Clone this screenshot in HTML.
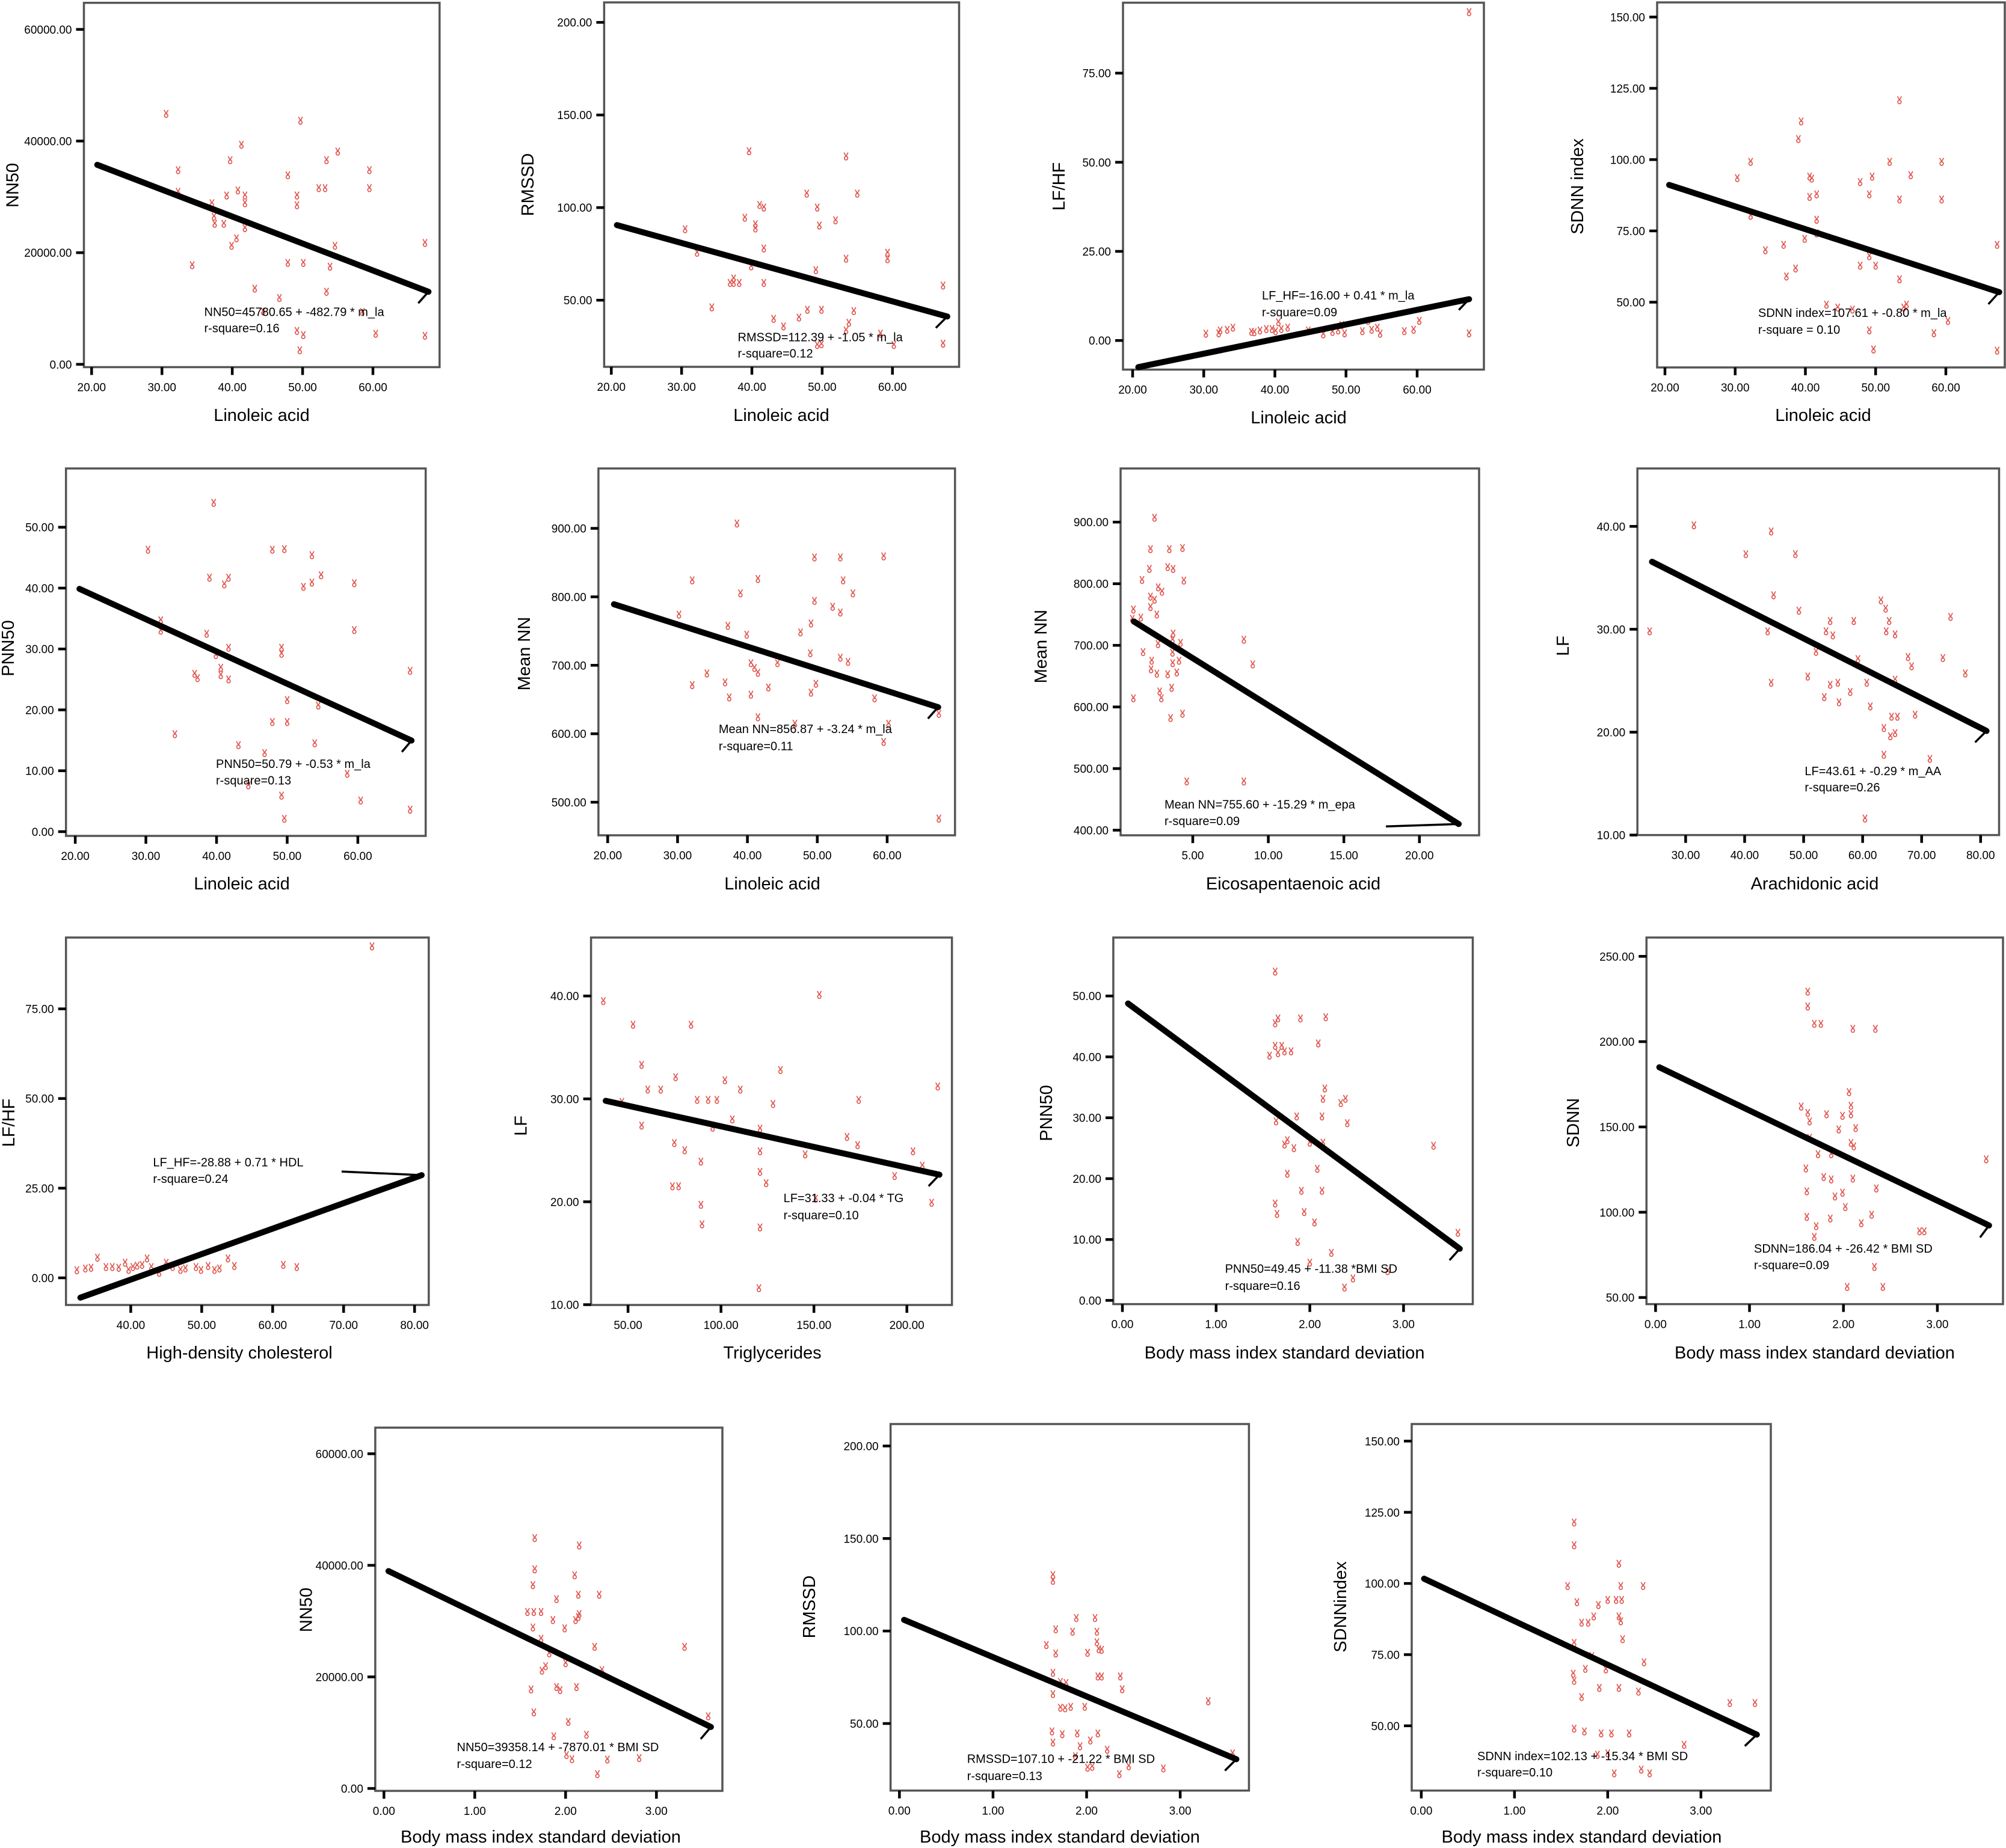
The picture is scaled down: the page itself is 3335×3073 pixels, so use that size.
<!DOCTYPE html>
<html><head><meta charset="utf-8">
<style>
html,body{margin:0;padding:0;background:#fff;}
svg{display:block;}
text{font-family:"Liberation Sans",Arial,sans-serif;fill:#000;}
</style></head>
<body>
<svg id="fig" xmlns="http://www.w3.org/2000/svg" width="3335" height="3073" viewBox="0 0 3335 3073"></svg>
<script>
// ---- data ----
const p1x=[30.6,32.3,32.3,34.3,37.1,37.4,37.5,38.8,39.2,39.7,39.9,40.6,40.8,41.3,41.8,41.8,41.8,43.2,44.4,46.7,47.9,47.9,49.2,49.2,49.2,49.6,49.7,50.1,50.1,52.3,53.2,53.4,53.4,53.9,54.6,55.0,58.5,59.5,59.5,60.4,67.4,67.4];
const p1y=[44860,34780,30900,17750,28850,26450,25170,25170,30230,36570,21230,22560,31150,39330,30230,28850,24400,13550,9460,11870,33860,18160,30230,28490,5980,2510,43630,18160,5220,31560,31560,36570,12990,17490,21230,38110,9360,34780,31560,5470,21740,5110];
const p2x=[39.6,53.4,47.8,55.0,41.1,41.7,49.3,39.0,51.9,40.5,40.5,49.6,30.5,41.7,32.2,59.3,59.3,53.4,39.9,49.1,36.9,37.4,37.4,38.2,41.7,67.2,34.3,47.9,49.9,54.5,43.1,46.7,44.5,53.8,53.4,58.3,49.3,49.9,60.2,67.2];
const p2y=[130.4,127.6,107.5,107.5,101.4,100,100,94.5,93.1,91,88.7,90.3,88.3,77.9,75.6,75.6,72.1,72.4,68.2,66.2,59.3,61.7,59.3,59.3,59.3,57.9,46.1,44.8,44.8,44.1,39.9,40.6,35.8,37.8,33.7,31.9,25.8,26.2,25.8,26.5];
const p3x=[67.3,67.3,60.3,30.3,32.3,33.3,34.1,37.1,37.9,38.8,39.6,40.5,40.9,41.8,44.7,46.8,48.1,48.9,49.8,49.4,52.3,53.1,53.6,54.4,54.8,58.2,59.5,32.1,36.7,40.1];
const p3y=[92.1,2.0,5.5,1.9,2.8,3.0,3.6,2.3,2.8,3.2,3.2,5.1,3.2,3.6,2.8,1.7,2.4,2.8,2.0,4.3,2.6,5.5,3.0,3.6,1.9,2.6,3.0,2.0,2.4,2.6];
const p4x=[53.4,39.4,39.0,32.2,30.3,52.0,59.4,40.6,40.9,47.8,49.5,55.0,40.6,41.6,49.1,53.4,59.4,32.2,41.6,39.9,41.6,34.3,36.9,67.3,47.8,50.0,49.1,37.3,38.6,53.4,43.0,44.6,46.7,54.0,54.4,60.3,49.1,58.3,49.7,67.3];
const p4y=[120.8,113.4,107.2,99.2,93.5,99.2,99.2,94.0,93.3,92.1,94.0,94.5,86.9,87.8,87.8,86.0,86.0,80.3,78.9,72.2,74.1,68.2,70.1,70.1,62.8,62.8,66.1,59.0,61.8,58.0,49.1,48.1,47.4,48.1,49.1,43.4,40.1,39.1,33.4,33.0];
const p5x=[39.6,30.3,47.9,49.6,53.5,39.0,41.7,41.1,52.3,53.5,54.8,59.5,32.1,32.1,38.6,59.5,41.7,49.2,49.2,39.9,40.6,40.6,36.9,37.3,41.7,67.4,50.0,54.4,34.1,47.9,50.0,43.1,46.8,53.9,58.5,44.5,49.2,60.4,67.4,49.6];
const p5y=[54.0,46.3,46.3,46.4,45.4,41.7,41.7,40.6,40.2,40.9,42.1,40.8,34.7,33.0,32.5,33.1,30.2,30.2,29.2,29.0,26.9,25.7,25.9,25.2,25.0,26.4,21.6,20.7,16.0,18.0,18.0,14.2,12.9,14.5,9.5,7.6,5.9,5.1,3.6,2.1];
const p6x=[38.5,49.6,53.3,59.5,32.1,41.5,53.7,39.0,55.1,49.6,52.2,53.3,30.2,37.2,49.1,39.9,47.6,49.0,53.3,54.4,40.5,41.0,41.5,44.3,34.2,32.1,36.8,49.8,37.4,40.5,43.0,49.1,58.2,41.5,46.8,60.2,67.4,59.5,67.4];
const p6y=[907,857.5,857.5,859,824,826,824,805,805,794,785.4,777,774,757.5,761,744.6,748,717.5,711,705,703,696,689,703,688,671,675,673,653,657,667.5,660,651.7,624,614.6,614.6,629,588,476];
const p7x=[2.47,2.2,3.45,4.32,2.13,3.34,3.70,1.64,4.41,2.71,2.96,2.2,2.47,2.2,1.07,2.62,1.56,1.0,8.38,3.70,3.66,2.7,4.19,1.71,3.66,2.28,2.24,4.09,3.67,2.62,3.34,3.94,8.97,3.6,2.81,2.92,1.07,3.53,4.32,4.6,8.38];
const p7y=[907,856,856,858,824,827,824,806,805,794,787,779,774,762,758,750,745,743,709,719,709,702,704,689,688,675,661,675,671,654,653,656,669,631,625,614,614,582,589,479,479];
const p8x=[31.4,44.5,40.2,48.6,44.9,49.2,23.9,43.9,54.5,53.8,54.95,58.5,63.1,63.9,64.5,64.0,65.5,74.9,52.1,59.2,67.7,68.3,73.6,77.4,50.7,44.5,54.5,55.8,60.7,65.5,53.5,57.9,56.0,61.3,64.9,65.9,68.9,63.6,64.7,65.5,63.6,71.4,60.4];
const p8y=[40.1,39.5,37.3,37.3,33.3,31.8,29.8,29.8,30.8,29.8,29.4,30.8,32.8,32.0,30.8,29.8,29.5,31.2,27.8,27.1,27.3,26.4,27.2,25.7,25.4,24.8,24.6,24.8,24.8,25.1,23.4,23.9,22.9,22.5,21.5,21.5,21.7,20.4,19.6,19.9,17.8,17.4,11.6];
const p9x=[74.0,32.4,33.6,34.4,35.3,36.5,37.4,38.3,39.2,39.7,40.3,40.9,41.6,42.3,42.9,44.0,45.0,45.9,47.0,47.7,49.2,49.9,50.9,51.8,52.5,53.7,54.6,61.5,63.4];
const p9y=[92.4,2.1,2.6,2.8,5.6,3.0,3.0,2.8,4.2,2.2,3.0,3.4,3.6,5.4,3.0,1.4,4.2,3.0,2.2,2.6,3.0,2.2,3.3,2.2,2.6,5.4,3.3,3.6,3.0];
const p10x=[36.7,152.9,52.7,83.9,57.3,132.0,75.6,102.1,60.6,67.6,110.4,216.6,46.7,87.2,93.1,97.8,128.0,174.1,106.1,57.3,95.5,121.0,167.8,173.5,74.9,80.5,121.0,145.3,203.3,89.2,208.3,193.4,121.0,124.3,73.9,77.2,89.2,150.9,213.3,89.8,121.0,120.4];
const p10y=[39.5,40.1,37.2,37.2,33.3,32.8,32.1,31.8,30.9,30.9,30.9,31.2,29.7,29.9,29.9,29.9,29.5,29.9,28.0,27.4,27.2,27.1,26.3,25.5,25.7,25.0,24.9,24.6,24.9,23.9,23.5,22.5,22.9,21.8,21.5,21.5,19.7,20.3,19.9,17.8,17.5,11.6];
const p11x=[1.63,1.63,1.66,1.90,2.17,2.09,1.63,1.70,1.57,1.73,1.80,1.66,2.16,2.14,2.33,2.38,1.64,1.86,2.13,2.40,1.76,1.73,1.83,2.00,2.14,3.32,1.76,2.08,1.91,2.13,1.63,1.65,1.94,2.05,1.87,2.23,2.00,2.83,2.46,2.37,3.58];
const p11y=[54.0,45.5,46.3,46.3,46.5,42.2,41.8,41.8,40.2,40.9,40.9,40.6,34.8,33.1,32.4,33.1,29.4,30.2,30.2,29.1,26.3,25.6,25.0,25.9,25.9,25.4,20.8,21.6,18.0,18.0,15.9,14.2,14.5,12.8,9.6,7.8,6.2,4.8,3.6,2.1,11.1];
const p12x=[1.62,1.62,1.69,1.76,2.10,2.34,2.06,1.55,2.08,1.62,1.82,1.99,2.08,1.64,2.13,1.95,1.64,2.08,2.11,1.73,1.87,3.52,1.60,1.79,1.87,2.10,2.35,1.61,1.99,1.91,2.02,1.61,1.86,2.30,2.19,1.71,2.81,2.86,1.69,2.33,2.04,2.42];
const p12y=[229.3,220.6,210.4,210.4,207.5,207.5,170.4,161.9,162.4,158.2,157.4,156.5,157.4,153.2,149.3,148.5,143.6,140.6,138.6,134.0,134.0,131.0,125.6,120.6,119.2,119.7,113.9,112.2,111.4,109.2,103.0,97.2,96.3,98.5,93.5,91.8,88.8,88.8,85.5,67.9,56.2,56.2];
const p13x=[1.66,2.15,1.66,2.10,1.64,2.37,2.14,1.90,1.58,1.65,1.73,1.86,2.11,2.14,2.15,1.64,1.99,1.73,2.32,3.31,1.82,2.00,1.78,1.74,2.40,1.62,1.90,1.94,2.12,1.65,3.57,2.03,1.87,2.23,2.01,2.07,2.46,2.81,2.35];
const p13y=[44880,43550,39270,38200,36440,34730,34730,33930,31630,31630,31630,30190,30190,30720,31260,28850,28690,26820,25380,25380,24200,22440,21910,21110,21210,17740,18170,17630,18170,13630,12930,11920,9350,9620,5980,5240,5180,5450,2560];
const p14x=[1.64,1.64,1.89,2.09,1.67,1.85,2.11,1.57,2.11,2.13,2.16,1.67,2.01,1.64,2.12,2.16,2.36,1.72,1.78,2.38,1.64,3.30,1.72,1.77,1.83,1.98,1.63,1.74,1.90,2.12,1.64,2.04,1.93,2.22,3.56,1.88,2.01,2.06,2.45,2.82,2.35];
const p14y=[130.2,127.1,107.0,107.0,100.9,99.6,99.6,92.4,93.9,90.1,89.8,87.8,88.2,77.4,75.4,75.4,75.4,72.4,71.9,68.5,65.9,62.0,58.5,58.2,59.0,59.0,45.7,44.2,44.6,44.6,39.7,40.8,37.7,35.8,33.8,32.3,26.1,26.6,26.9,25.7,22.6];
const p15x=[1.64,1.64,2.12,1.57,2.14,2.38,1.67,2.0,2.09,2.15,1.90,1.85,2.12,2.14,1.72,1.79,2.16,1.64,1.83,2.39,1.76,1.98,1.63,1.64,1.91,2.12,2.33,1.72,3.31,3.58,1.64,1.75,1.93,2.04,2.23,2.82,1.89,2.0,2.36,2.45,2.07];
const p15y=[121.4,113.4,106.9,99.1,99.1,99.1,93.4,94.2,94.2,94.2,92.4,88.4,88.4,86.7,86.2,86.2,80.4,79.1,74.5,72.3,70.0,69.8,68.3,65.8,63.3,63.3,62.0,60.1,58.0,58.0,49.0,48.0,47.3,47.3,47.3,43.3,39.8,40.3,34.6,33.3,33.3];

const fitIntercept=[45780.65,112.39,-16.00,107.61,50.79,856.87,755.60,43.61,-28.88,31.33,49.45,186.04,39358.14,107.10,102.13];
const fitSlope=[-482.79,-1.05,0.41,-0.80,-0.53,-3.24,-15.29,-0.29,0.71,-0.04,-11.38,-26.42,-7870.01,-21.22,-15.34];
const fitXMin=[20.8,20.8,20.8,20.6,20.6,20.9,1.1,24.3,32.9,38,0.06,0.04,0.05,0.05,0.03];
const fitXMax=[67.9,67.8,67.3,67.6,67.6,67.3,22.6,81,81,217.5,3.6,3.55,3.6,3.6,3.6];

const xTickVals=[[20,30,40,50,60],[20,30,40,50,60],[20,30,40,50,60],[20,30,40,50,60],[20,30,40,50,60],[20,30,40,50,60],[5,10,15,20],[30,40,50,60,70,80],[40,50,60,70,80],[50,100,150,200],[0,1,2,3],[0,1,2,3],[0,1,2,3],[0,1,2,3],[0,1,2,3]];
const yTickVals=[[0,20000,40000,60000],[50,100,150,200],[0,25,50,75],[50,75,100,125,150],[0,10,20,30,40,50],[500,600,700,800,900],[400,500,600,700,800,900],[10,20,30,40],[0,25,50,75],[10,20,30,40],[0,10,20,30,40,50],[50,100,150,200,250],[0,20000,40000,60000],[50,100,150,200],[50,75,100,125,150]];

const eqText=[
["NN50=45780.65 + -482.79 * m_la","r-square=0.16"],
["RMSSD=112.39 + -1.05 * m_la","r-square=0.12"],
["LF_HF=-16.00 + 0.41 * m_la","r-square=0.09"],
["SDNN index=107.61 + -0.80 * m_la","r-square = 0.10"],
["PNN50=50.79 + -0.53 * m_la","r-square=0.13"],
["Mean NN=856.87 + -3.24 * m_la","r-square=0.11"],
["Mean NN=755.60 + -15.29 * m_epa","r-square=0.09"],
["LF=43.61 + -0.29 * m_AA","r-square=0.26"],
["LF_HF=-28.88 + 0.71 * HDL","r-square=0.24"],
["LF=31.33 + -0.04 * TG","r-square=0.10"],
["PNN50=49.45 + -11.38 *BMI SD","r-square=0.16"],
["SDNN=186.04 + -26.42 * BMI SD","r-square=0.09"],
["NN50=39358.14 + -7870.01 * BMI SD","r-square=0.12"],
["RMSSD=107.10 + -21.22 * BMI SD","r-square=0.13"],
["SDNN index=102.13 + -15.34 * BMI SD","r-square=0.10"]];
const xTitles=["Linoleic acid","Linoleic acid","Linoleic acid","Linoleic acid","Linoleic acid","Linoleic acid","Eicosapentaenoic acid","Arachidonic acid","High-density cholesterol","Triglycerides","Body mass index standard deviation","Body mass index standard deviation","Body mass index standard deviation","Body mass index standard deviation","Body mass index standard deviation"];
const yTitles=["NN50","RMSSD","LF/HF","SDNN index","PNN50","Mean NN","Mean NN","LF","LF/HF","LF","PNN50","SDNN","NN50","RMSSD","SDNNindex"];

const ptsX=[p1x,p2x,p3x,p4x,p5x,p6x,p7x,p8x,p9x,p10x,p11x,p12x,p13x,p14x,p15x];
const ptsY=[p1y,p2y,p3y,p4y,p5y,p6y,p7y,p8y,p9y,p10y,p11y,p12y,p13y,p14y,p15y];

const layout=[
{f:[139.5,4.7,730.8,610.5],xc:[20,152.3,60,620],yc:[0,605.8,60000,48.9],xt:[435,700],yt:[21.5,308],eq:[339.5,525.6,552.6],hk:[-17,19]},
{f:[1004.4,4,1594.5,610],xc:[20,1016.3,60,1483.7],yc:[50,499.2,200,37.2],xt:[1299,700],yt:[878,307],eq:[1226.5,567.7,594.3],hk:[-19,19]},
{f:[1867,4.5,2467,614.6],xc:[20,1883,60,2356],yc:[0,566.2,75,121.6],xt:[2159,704],yt:[1761,310],eq:[2098,498,525.8],hk:[-17,18]},
{f:[2755,4,3333,611],xc:[20,2768,60,3235],yc:[50,502.5,150,28.3],xt:[3031,700],yt:[2623,310],eq:[2923,527,555],hk:[-18,20]},
{f:[109.7,779,707.7,1390],xc:[20,125.1,60,594.9],yc:[0,1382.9,50,876.7],xt:[402,1479],yt:[14,1078],eq:[359,1277,1304.6],hk:[-16,19]},
{f:[994.9,779,1587.7,1389],xc:[20,1010.3,60,1474.9],yc:[500,1334,900,878.6],xt:[1284,1479],yt:[872,1087],eq:[1194.9,1219,1247.7],hk:[-17,19]},
{f:[1863,779,2459,1389],xc:[5,1983,20,2359.8],yc:[400,1380.5,900,868.2],xt:[2150,1479],yt:[1731,1075],eq:[1936,1344.5,1372],hk:[-121,4]},
{f:[2722.2,779,3323.5,1388.6],xc:[30,2802.4,80,3292.8],yc:[10,1388.6,40,875.3],xt:[3017,1479],yt:[2599,1074],eq:[3000.4,1289,1316],hk:[-19,19]},
{f:[109.7,1559,712.8,2170],xc:[40,217.4,80,689.2],yc:[0,2124.9,75,1677.6],xt:[398,2259],yt:[15,1867],eq:[254.4,1939.4,1967],hk:[-133,-6]},
{f:[982.6,1559,1582.6,2170],xc:[50,1044.1,200,1507.7],yc:[10,2169.5,40,1656.2],xt:[1284,2259],yt:[866.7,1872],eq:[1302.6,1999,2027.7],hk:[-18,19]},
{f:[1850.9,1559,2448.5,2168.6],xc:[0,1866,3,2333.4],yc:[0,2162.4,50,1656.2],xt:[2135.6,2259],yt:[1740,1851],eq:[2036.6,2116.4,2144.8],hk:[-17,19]},
{f:[2737.3,1559,3330,2168.6],xc:[0,2752.4,3,3220.9],yc:[50,2157.6,250,1590.3],xt:[3017,2259],yt:[2616,1867],eq:[2916,2083,2110.7],hk:[-15,20]},
{f:[623.9,2374,1201,2978],xc:[0,638.3,3,1091.3],yc:[0,2974,60000,2417.4],xt:[899,3064],yt:[509.6,2677],eq:[759.5,2912,2940],hk:[-17,20]},
{f:[1480.6,2368,2076.4,2977.5],xc:[0,1495.3,3,1962.1],yc:[50,2866,200,2404.5],xt:[1762,3064],yt:[1346,2672],eq:[1607.7,2931.5,2960],hk:[-19,19]},
{f:[2347,2368,2944,2977.5],xc:[0,2362.9,3,2827.8],yc:[50,2869.8,150,2396.4],xt:[2629.5,3064],yt:[2229,2672],eq:[2456,2927,2954],hk:[-20,19]}
];

const NS="http://www.w3.org/2000/svg";
const svg=document.getElementById('fig');
function mk(tag,attrs,parent){const e=document.createElementNS(NS,tag);for(const k in attrs)e.setAttribute(k,attrs[k]);parent.appendChild(e);return e;}

layout.forEach((L,i)=>{
  const n=i+1;
  const sx=v=>L.xc[1]+(v-L.xc[0])*(L.xc[3]-L.xc[1])/(L.xc[2]-L.xc[0]);
  const sy=v=>L.yc[1]+(v-L.yc[0])*(L.yc[3]-L.yc[1])/(L.yc[2]-L.yc[0]);
  const g=mk('g',{},svg);
  
  
  const [l,t,r,b]=L.f;
  const fr=mk('rect',{x:l,y:t,width:r-l,height:b-t,fill:'none',stroke:'#555','stroke-width':3.5},g);
  
  
  yTickVals[i].forEach(v=>{
    const y=sy(v);
    const tk=mk('line',{x1:l-13,x2:l,y1:y,y2:y,stroke:'#000','stroke-width':4.5},g);
    
    
    const tx=mk('text',{x:l-20,y:y+7,'text-anchor':'end','font-size':19},g);
    tx.textContent=v.toFixed(2);
    
    
  });
  xTickVals[i].forEach(v=>{
    const x=sx(v);
    const tk=mk('line',{x1:x,x2:x,y1:b,y2:b+13,stroke:'#000','stroke-width':4.5},g);
    
    
    const tx=mk('text',{x:x,y:b+40,'text-anchor':'middle','font-size':19},g);
    tx.textContent=v.toFixed(2);
    
    
  });
  const xtt=mk('text',{x:L.xt[0],y:L.xt[1],'text-anchor':'middle','font-size':29},g);
  xtt.textContent=xTitles[i];
  
  
  const ytt=mk('text',{x:0,y:0,'text-anchor':'middle','dominant-baseline':'central','font-size':29,transform:'translate('+L.yt[0]+','+L.yt[1]+') rotate(-90)'},g);
  ytt.textContent=yTitles[i];
  
  
  const pg=mk('g',{fill:'none',stroke:'#e0574f','stroke-width':1.7},g);
  
  
  ptsX[i].forEach((xv,k)=>{
    const px=sx(xv),py=sy(ptsY[i][k]);
    const m=mk('path',{d:'M'+(px-3.4)+','+(py-6.5)+'L'+px+','+(py-0.5)+'L'+(px+3.4)+','+(py-6.5)+'M'+(px+2.8)+','+(py+2.8)+'a2.8,3 0 1,1 -5.6,0a2.8,3 0 1,1 5.6,0'},pg);
    
    
  });
  const x0=fitXMin[i],x1=fitXMax[i];
  const ex=sx(x1),ey=sy(fitIntercept[i]+fitSlope[i]*x1);
  const ln=mk('line',{x1:sx(x0),y1:sy(fitIntercept[i]+fitSlope[i]*x0),x2:ex,y2:ey,stroke:'#000','stroke-width':10,'stroke-linecap':'round'},g);
  
  
  const hk=mk('line',{x1:ex,y1:ey,x2:ex+L.hk[0],y2:ey+L.hk[1],stroke:'#000','stroke-width':3.5},g);
  
  
  const e1=mk('text',{x:L.eq[0],y:L.eq[1],'font-size':20},g);
  e1.textContent=eqText[i][0];
  
  
  const e2=mk('text',{x:L.eq[0],y:L.eq[2],'font-size':20},g);
  e2.textContent=eqText[i][1];
  
  
});
</script>
</body></html>
